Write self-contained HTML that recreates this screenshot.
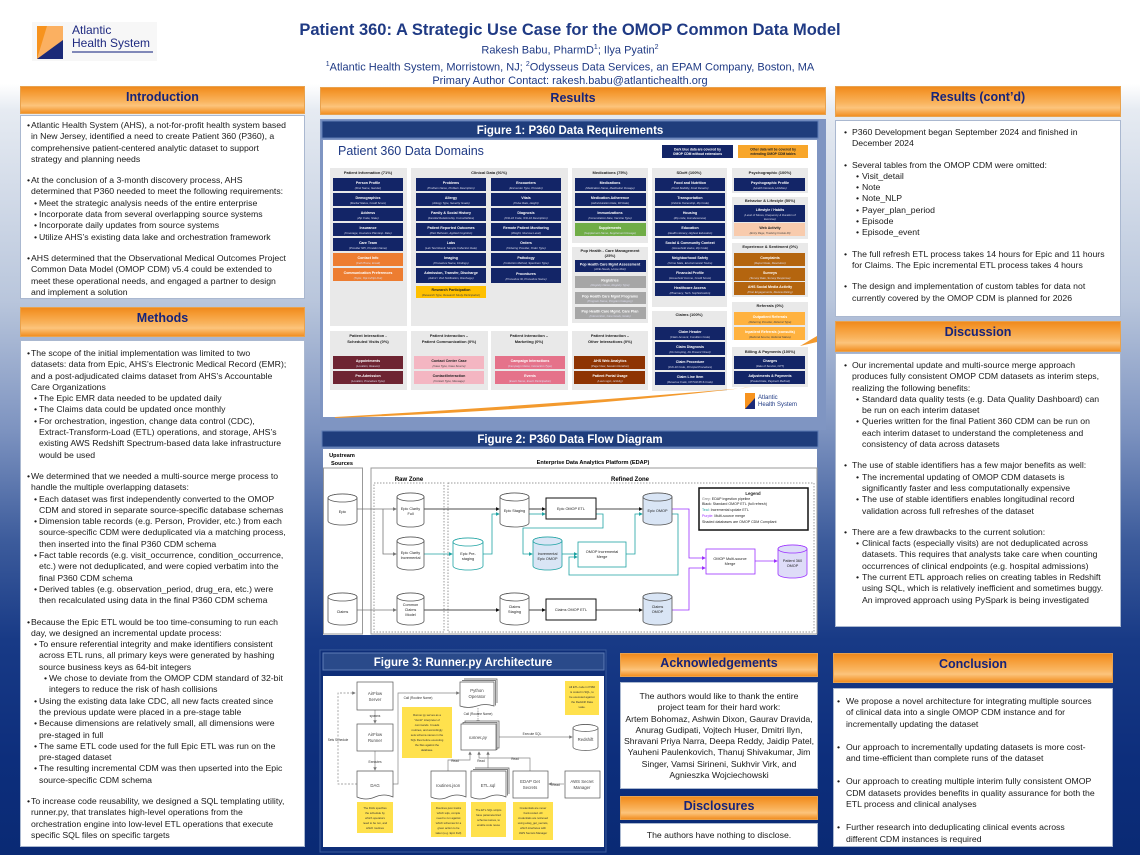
<!DOCTYPE html>
<html><head><meta charset="utf-8">
<style>
*{margin:0;padding:0;box-sizing:border-box}
html,body{width:1140px;height:855px;overflow:hidden}
body{position:relative;font-family:"Liberation Sans",sans-serif;background:linear-gradient(to bottom,#fff 0,#fff 84px,#e6ebf2 110px,#b9c6dc 300px,#7d93c0 430px,#3d5c9c 540px,#183a86 640px,#0d2e7c 760px,#0a2a74 855px)}
.hd{position:absolute;background:linear-gradient(to bottom,#ef8a1e 0%,#f59a32 20%,#f9b45e 55%,#fcc47c 72%,#f28f22 100%);border:1px solid #e8a24e;text-align:center;color:#16237a;font-weight:bold;font-size:12.5px;padding-top:3px}
.p{position:absolute;background:#fff;border:1px solid #aab8d0;font-size:8.7px;line-height:11.3px;color:#1a1a1a;white-space:nowrap}
.b{position:relative;padding-left:10px}
.b:before{content:"•";position:absolute;left:6px}
.s{position:relative;padding-left:18px}
.s:before{content:"•";position:absolute;left:13px}
.ss{position:relative;padding-left:28px}
.ss:before{content:"•";position:absolute;left:23px}
.g{margin-top:10px}
.r .b{padding-left:16px}.r .b:before{left:8px}
.r .s{padding-left:26px}.r .s:before{left:20px}
.c .b{padding-left:12px}.c .b:before{left:3px}
.c .g{margin-top:12px}
svg text{font-family:"Liberation Sans",sans-serif}
</style></head><body>

<div style="position:absolute;left:32px;top:22px;width:125px;height:39px;background:#f7f7f7"></div>
<svg style="position:absolute;left:37px;top:26px" width="26" height="33"><rect width="26" height="33" fill="#f7931e"/><polygon points="10,0 26,0 26,18 4,33 0,33" fill="#fbb061"/><polygon points="0,33 26,14 26,33" fill="#1b2a78"/></svg>
<div style="position:absolute;left:72px;top:24px;font-size:12px;line-height:12.5px;color:#1f2a80">Atlantic<br>Health System</div>
<div style="position:absolute;left:72px;top:51px;width:81px;height:2px;background:#8088b8"></div>

<div style="position:absolute;left:0;top:21px;width:1140px;text-align:center;color:#1f3a84;font-weight:bold;font-size:16.5px">Patient 360: A Strategic Use Case for the OMOP Common Data Model</div>
<div style="position:absolute;left:0;top:41px;width:1140px;text-align:center;color:#1f3a84;font-size:11px;line-height:14px">Rakesh Babu, PharmD<sup style="font-size:7px">1</sup>; Ilya Pyatin<sup style="font-size:7px">2</sup><br><sup style="font-size:7px">1</sup>Atlantic Health System, Morristown, NJ; <sup style="font-size:7px">2</sup>Odysseus Data Services, an EPAM Company, Boston, MA<br>Primary Author Contact: rakesh.babu@atlantichealth.org</div>

<div class="hd" style="left:20px;top:86px;width:285px;height:28px">Introduction</div>
<div class="hd" style="left:320px;top:87px;width:506px;height:28px">Results</div>
<div class="hd" style="left:835px;top:86px;width:286px;height:31px">Results (cont’d)</div>
<div class="hd" style="left:20px;top:307px;width:285px;height:30px">Methods</div>
<div class="hd" style="left:835px;top:321px;width:286px;height:31px">Discussion</div>
<div class="hd" style="left:620px;top:653px;width:198px;height:24px;padding-top:2px">Acknowledgements</div>
<div class="hd" style="left:620px;top:796px;width:198px;height:24px;padding-top:2px">Disclosures</div>
<div class="hd" style="left:833px;top:653px;width:280px;height:30px">Conclusion</div>

<div class="p" style="left:20px;top:115px;width:285px;height:184px;padding-top:4px">
<div class="b">Atlantic Health System (AHS), a not-for-profit health system based<br>in New Jersey, identified a need to create Patient 360 (P360), a<br>comprehensive patient-centered analytic dataset to support<br>strategy and planning needs</div>
<div class="b g">At the conclusion of a 3-month discovery process, AHS<br>determined that P360 needed to meet the following requirements:</div>
<div class="s">Meet the strategic analysis needs of the entire enterprise</div>
<div class="s">Incorporate data from several overlapping source systems</div>
<div class="s">Incorporate daily updates from source systems</div>
<div class="s">Utilize AHS’s existing data lake and orchestration framework</div>
<div class="b g">AHS determined that the Observational Medical Outcomes Project<br>Common Data Model (OMOP CDM) v5.4 could be extended to<br>meet these operational needs, and engaged a partner to design<br>and implement a solution</div>
</div>

<div class="p" style="left:20px;top:340px;width:285px;height:507px;padding-top:7px">
<div class="b">The scope of the initial implementation was limited to two<br>datasets: data from Epic, AHS’s Electronic Medical Record (EMR);<br>and a post-adjudicated claims dataset from AHS’s Accountable<br>Care Organizations</div>
<div class="s">The Epic EMR data needed to be updated daily</div>
<div class="s">The Claims data could be updated once monthly</div>
<div class="s">For orchestration, ingestion, change data control (CDC),<br>Extract-Transform-Load (ETL) operations, and storage, AHS’s<br>existing AWS Redshift Spectrum-based data lake infrastructure<br>would be used</div>
<div class="b g">We determined that we needed a multi-source merge process to<br>handle the multiple overlapping datasets:</div>
<div class="s">Each dataset was first independently converted to the OMOP<br>CDM and stored in separate source-specific database schemas</div>
<div class="s">Dimension table records (e.g. Person, Provider, etc.) from each<br>source-specific CDM were deduplicated via a matching process,<br>then inserted into the final P360 CDM schema</div>
<div class="s">Fact table records (e.g. visit_occurrence, condition_occurrence,<br>etc.) were not deduplicated, and were copied verbatim into the<br>final P360 CDM schema</div>
<div class="s">Derived tables (e.g. observation_period, drug_era, etc.) were<br>then recalculated using data in the final P360 CDM schema</div>
<div class="b g">Because the Epic ETL would be too time-consuming to run each<br>day, we designed an incremental update process:</div>
<div class="s">To ensure referential integrity and make identifiers consistent<br>across ETL runs, all primary keys were generated by hashing<br>source business keys as 64-bit integers</div>
<div class="ss">We chose to deviate from the OMOP CDM standard of 32-bit<br>integers to reduce the risk of hash collisions</div>
<div class="s">Using the existing data lake CDC, all new facts created since<br>the previous update were placed in a pre-stage table</div>
<div class="s">Because dimensions are relatively small, all dimensions were<br>pre-staged in full</div>
<div class="s">The same ETL code used for the full Epic ETL was run on the<br>pre-staged dataset</div>
<div class="s">The resulting incremental CDM was then upserted into the Epic<br>source-specific CDM schema</div>
<div class="b g">To increase code reusability, we designed a SQL templating utility,<br>runner.py, that translates high-level operations from the<br>orchestration engine into low-level ETL operations that execute<br>specific SQL files on specific targets</div>
</div>

<div class="p r" style="left:835px;top:120px;width:286px;height:197px;padding-top:6px">
<div class="b">P360 Development began September 2024 and finished in<br>December 2024</div>
<div class="b g">Several tables from the OMOP CDM were omitted:</div>
<div class="s">Visit_detail</div><div class="s">Note</div><div class="s">Note_NLP</div><div class="s">Payer_plan_period</div><div class="s">Episode</div><div class="s">Episode_event</div>
<div class="b g">The full refresh ETL process takes 14 hours for Epic and 11 hours<br>for Claims. The Epic incremental ETL process takes 4 hours</div>
<div class="b g">The design and implementation of custom tables for data not<br>currently covered by the OMOP CDM is planned for 2026</div>
</div>

<div class="p r" style="left:835px;top:353px;width:286px;height:274px;padding-top:6px">
<div class="b">Our incremental update and multi-source merge approach<br>produces fully consistent OMOP CDM datasets as interim steps,<br>realizing the following benefits:</div>
<div class="s">Standard data quality tests (e.g. Data Quality Dashboard) can<br>be run on each interim dataset</div>
<div class="s">Queries written for the final Patient 360 CDM can be run on<br>each interim dataset to understand the completeness and<br>consistency of data across datasets</div>
<div class="b g">The use of stable identifiers has a few major benefits as well:</div>
<div class="s">The incremental updating of OMOP CDM datasets is<br>significantly faster and less computationally expensive</div>
<div class="s">The use of stable identifiers enables longitudinal record<br>validation across full refreshes of the dataset</div>
<div class="b g">There are a few drawbacks to the current solution:</div>
<div class="s">Clinical facts (especially visits) are not deduplicated across<br>datasets. This requires that analysts take care when counting<br>occurrences of clinical endpoints (e.g. hospital admissions)</div>
<div class="s">The current ETL approach relies on creating tables in Redshift<br>using SQL, which is relatively inefficient and sometimes buggy.<br>An improved approach using PySpark is being investigated</div>
</div>

<div class="p" style="left:620px;top:682px;width:198px;height:107px;padding-top:8px;text-align:center">The authors would like to thank the entire<br>project team for their hard work:<br>Artem Bohomaz, Ashwin Dixon, Gaurav Dravida,<br>Anurag Gudipati, Vojtech Huser, Dmitri Ilyn,<br>Shravani Priya Narra, Deepa Reddy, Jaidip Patel,<br>Yauheni Paulenkovich, Thanuj Shivakumar, Jim<br>Singer, Vamsi Sirineni, Sukhvir Virk, and<br>Agnieszka Wojciechowski</div>
<div class="p" style="left:620px;top:823px;width:198px;height:24px;padding-top:6px;text-align:center">The authors have nothing to disclose.</div>

<div class="p c" style="left:833px;top:688px;width:280px;height:159px;padding-top:7px">
<div class="b">We propose a novel architecture for integrating multiple sources<br>of clinical data into a single OMOP CDM instance and for<br>incrementally updating the dataset</div>
<div class="b g">Our approach to incrementally updating datasets is more cost-<br>and time-efficient than complete runs of the dataset</div>
<div class="b g">Our approach to creating multiple interim fully consistent OMOP<br>CDM datasets provides benefits in quality assurance for both the<br>ETL process and clinical analyses</div>
<div class="b g">Further research into deduplicating clinical events across<br>different CDM instances is required</div>
</div>

<svg style="position:absolute;left:0;top:0" width="1140" height="855" viewBox="0 0 1140 855">
<defs>
<marker id="ak" markerWidth="5" markerHeight="5" refX="4" refY="2.5" orient="auto"><path d="M0,0L5,2.5L0,5Z" fill="#111"/></marker>
<marker id="ag" markerWidth="5" markerHeight="5" refX="4" refY="2.5" orient="auto"><path d="M0,0L5,2.5L0,5Z" fill="#777"/></marker>
<marker id="at" markerWidth="5" markerHeight="5" refX="4" refY="2.5" orient="auto"><path d="M0,0L5,2.5L0,5Z" fill="#1fa3a3"/></marker>
<marker id="ap" markerWidth="5" markerHeight="5" refX="4" refY="2.5" orient="auto"><path d="M0,0L5,2.5L0,5Z" fill="#9b30ff"/></marker>
</defs>

<rect x="320" y="119" width="506" height="311" fill="#7f95c2"/>
<rect x="322" y="121" width="496" height="17" fill="#1f3d7c" stroke="#5d7cb5"/>
<text x="570" y="134" text-anchor="middle" fill="#fff" font-size="11.5" font-weight="bold">Figure 1: P360 Data Requirements</text>
<rect x="323" y="140" width="494" height="277" fill="#fff"/>
<text x="338" y="155" fill="#1f3a84" font-size="12.5">Patient 360 Data Domains</text>
<rect x="662" y="145" width="71" height="13" fill="#132567"/>
<text x="697.5" y="150.5" text-anchor="middle" fill="#fff" font-size="3.3" font-weight="bold">Dark blue data are covered by</text>
<text x="697.5" y="155" text-anchor="middle" fill="#fff" font-size="3.3" font-weight="bold">OMOP CDM without extensions</text>
<rect x="738" y="145" width="70" height="13" fill="#f8a62a"/>
<text x="773" y="150.5" text-anchor="middle" fill="#222" font-size="3.3" font-weight="bold">Other data will be covered by</text>
<text x="773" y="155" text-anchor="middle" fill="#222" font-size="3.3" font-weight="bold">extending OMOP CDM tables</text>

<g fill="#e9e9e9">
<rect x="330" y="168" width="77" height="158"/><rect x="411" y="168" width="157" height="158"/>
<rect x="572" y="168" width="76" height="75"/><rect x="572" y="247" width="76" height="76"/>
<rect x="652" y="168" width="75" height="139"/><rect x="652" y="311" width="75" height="80"/>
<rect x="732" y="168" width="76" height="25"/><rect x="732" y="197" width="76" height="42"/>
<rect x="732" y="243" width="76" height="54"/><rect x="732" y="302" width="76" height="38"/>
<rect x="732" y="347" width="76" height="40"/>
<rect x="330" y="331" width="77" height="59"/><rect x="411" y="331" width="77" height="59"/>
<rect x="491" y="331" width="77" height="59"/><rect x="572" y="331" width="76" height="59"/>
</g>
<g font-size="4" font-weight="bold" fill="#222" text-anchor="middle">
<text x="368" y="174">Patient Information (71%)</text>
<text x="489" y="174">Clinical Data (91%)</text>
<text x="610" y="174">Medications (75%)</text>
<text x="610" y="252">Pop Health - Care Management</text><text x="610" y="257">(25%)</text>
<text x="689" y="174">SDoH (100%)</text>
<text x="689" y="316">Claims (100%)</text>
<text x="770" y="174">Psychographic (100%)</text>
<text x="770" y="202">Behavior &amp; Lifestyle (50%)</text>
<text x="770" y="248">Experience &amp; Sentiment (0%)</text>
<text x="770" y="307">Referrals (0%)</text>
<text x="770" y="353">Billing &amp; Payments (100%)</text>
<text x="368" y="337">Patient Interaction -</text><text x="368" y="343">Scheduled Visits (0%)</text>
<text x="449" y="337">Patient Interaction –</text><text x="449" y="343">Patient Communication (0%)</text>
<text x="529" y="337">Patient Interaction –</text><text x="529" y="343">Marketing (0%)</text>
<text x="610" y="337">Patient Interaction –</text><text x="610" y="343">Other Interactions (0%)</text>
</g>

<g fill="#132567">
<rect x="333" y="178" width="70" height="13"/><rect x="333" y="193" width="70" height="13"/><rect x="333" y="208" width="70" height="13"/><rect x="333" y="223" width="70" height="13"/><rect x="333" y="238" width="70" height="13"/>
<rect x="416" y="178" width="70" height="13"/><rect x="416" y="193" width="70" height="13"/><rect x="416" y="208" width="70" height="13"/><rect x="416" y="223" width="70" height="13"/><rect x="416" y="238" width="70" height="13"/><rect x="416" y="253" width="70" height="13"/><rect x="416" y="268" width="70" height="15"/>
<rect x="491" y="178" width="70" height="13"/><rect x="491" y="193" width="70" height="13"/><rect x="491" y="208" width="70" height="13"/><rect x="491" y="223" width="70" height="13"/><rect x="491" y="238" width="70" height="13"/><rect x="491" y="253" width="70" height="13"/><rect x="491" y="268" width="70" height="15"/>
<rect x="575" y="178" width="71" height="13"/><rect x="575" y="193" width="71" height="13"/><rect x="575" y="208" width="71" height="13"/>
<rect x="575" y="260" width="71" height="12"/>
<rect x="655" y="178" width="70" height="13"/><rect x="655" y="193" width="70" height="13"/><rect x="655" y="208" width="70" height="13"/><rect x="655" y="223" width="70" height="13"/><rect x="655" y="238" width="70" height="13"/><rect x="655" y="253" width="70" height="13"/><rect x="655" y="268" width="70" height="13"/><rect x="655" y="283" width="70" height="13"/>
<rect x="655" y="327" width="70" height="13"/><rect x="655" y="342" width="70" height="13"/><rect x="655" y="357" width="70" height="13"/><rect x="655" y="372" width="70" height="13"/>
<rect x="734" y="178" width="71" height="13"/><rect x="734" y="205" width="71" height="17"/>
<rect x="734" y="356" width="71" height="13"/><rect x="734" y="371" width="71" height="13"/>
</g>
<g fill="#ed7d31"><rect x="333" y="253" width="70" height="13"/><rect x="333" y="268" width="70" height="13"/></g>
<rect x="416" y="286" width="70" height="12" fill="#ffc000"/>
<rect x="575" y="223" width="71" height="13" fill="#70ad47"/>
<g fill="#a6a6a6"><rect x="575" y="276" width="71" height="12"/><rect x="575" y="292" width="71" height="12"/><rect x="575" y="307" width="71" height="12"/></g>
<rect x="734" y="223" width="71" height="13" fill="#f8cbad"/>
<g fill="#b4650f"><rect x="734" y="253" width="71" height="13"/><rect x="734" y="268" width="71" height="13"/><rect x="734" y="282" width="71" height="13"/></g>
<g fill="#ffb23f"><rect x="734" y="312" width="71" height="13"/><rect x="734" y="327" width="71" height="13"/></g>
<g fill="#6e2432"><rect x="333" y="356" width="70" height="13"/><rect x="333" y="371" width="70" height="13"/></g>
<g fill="#f4b6c2"><rect x="414" y="356" width="70" height="13"/><rect x="414" y="371" width="70" height="13"/></g>
<g fill="#e5728a"><rect x="495" y="356" width="70" height="13"/><rect x="495" y="371" width="70" height="13"/></g>
<g fill="#8e3403"><rect x="574" y="356" width="71" height="13"/><rect x="574" y="371" width="71" height="13"/></g>

<g fill="#fff" font-size="3.6" font-weight="bold" text-anchor="middle">
<text x="368" y="184">Person Profile</text><text x="368" y="199">Demographics</text><text x="368" y="214">Address</text><text x="368" y="229">Insurance</text><text x="368" y="244">Care Team</text><text x="368" y="259">Contact Info</text><text x="368" y="274">Communication Preferences</text>
<text x="451" y="184">Problems</text><text x="451" y="199">Allergy</text><text x="451" y="214">Family &amp; Social History</text><text x="451" y="229">Patient Reported Outcomes</text><text x="451" y="244">Labs</text><text x="451" y="259">Imaging</text><text x="451" y="274">Admission, Transfer, Discharge</text>
<text x="526" y="184">Encounters</text><text x="526" y="199">Vitals</text><text x="526" y="214">Diagnosis</text><text x="526" y="229">Remote Patient Monitoring</text><text x="526" y="244">Orders</text><text x="526" y="259">Pathology</text><text x="526" y="275">Procedures</text>
<text x="610" y="184">Medications</text><text x="610" y="199">Medication Adherence</text><text x="610" y="214">Immunizations</text><text x="610" y="229">Supplements</text>
<text x="610" y="265.5">Pop Health Care Mgmt Assessment</text><text x="610" y="281.5">Registries</text><text x="610" y="297.5">Pop Health Care Mgmt Programs</text><text x="610" y="312.5">Pop Health Care Mgmt. Care Plan</text>
<text x="690" y="184">Food and Nutrition</text><text x="690" y="199">Transportation</text><text x="690" y="214">Housing</text><text x="690" y="229">Education</text><text x="690" y="244">Social &amp; Community Context</text><text x="690" y="259">Neighborhood Safety</text><text x="690" y="274">Financial Profile</text><text x="690" y="289">Healthcare Access</text>
<text x="690" y="333">Claim Header</text><text x="690" y="348">Claim Diagnosis</text><text x="690" y="363">Claim Procedure</text><text x="690" y="378">Claim Line Item</text>
<text x="770" y="184">Psychographic Profile</text><text x="770" y="211">Lifestyle / Habits</text>
<text x="770" y="259">Complaints</text><text x="770" y="274">Surveys</text><text x="770" y="288">AHS Social Media Activity</text>
<text x="770" y="362">Charges</text><text x="770" y="377">Adjustments &amp; Payments</text>
<text x="368" y="362">Appointments</text><text x="368" y="377">Pre-Admission</text>
<text x="530" y="362">Campaign Interactions</text><text x="530" y="377">Events</text>
<text x="610" y="362">AHS Web Analytics</text><text x="610" y="377">Patient Portal Usage</text>
<text x="770" y="318">Outpatient Referrals</text><text x="770" y="333">Inpatient Referrals (consults)</text>
</g>
<g fill="#222" font-size="3.6" font-weight="bold" text-anchor="middle">
<text x="451" y="291">Research Participation</text><text x="770" y="229">Web Activity</text>
<text x="449" y="362">Contact Center Case</text><text x="449" y="377">Contact/Interaction</text>
</g>
<g fill="#dde" font-size="2.8" font-style="italic" text-anchor="middle">
<text x="368" y="189">(First Name, Gender)</text><text x="368" y="204">(Marital Status, Credit Score)</text><text x="368" y="219">(Zip Code, State)</text><text x="368" y="234">(Coverage, Insurance Plan Exp. Date)</text><text x="368" y="249">(Provider NPI, Provider Name)</text><text x="368" y="264">(Cell Phone, Email)</text><text x="368" y="279">(Topic, Opt-In/Opt-Out)</text>
<text x="451" y="189">(Problem Name, Problem Description)</text><text x="451" y="204">(Allergy Type, Severity Grade)</text><text x="451" y="219">(Familial Relationship, Comorbidities)</text><text x="451" y="234">(Pain Behavior, Applied Cognition)</text><text x="451" y="249">(Lab Test Result, Sample Collection Date)</text><text x="451" y="264">(Procedure Name, Findings)</text><text x="451" y="279">(Admit / Visit Notification, Discharge)</text>
<text x="526" y="189">(Encounter Type, Provider)</text><text x="526" y="204">(Pulse Rate, Height)</text><text x="526" y="219">(ICD-10 Code, ICD-10 Description)</text><text x="526" y="234">(Weight, Glucose Level)</text><text x="526" y="249">(Ordering Provider, Order Type)</text><text x="526" y="264">(Collection Method, Specimen Type)</text><text x="526" y="280">(Procedure ID, Procedure Name)</text>
<text x="610" y="189">(Medication Name, Medication Dosage)</text><text x="610" y="204">(Administration Date, Fill Date)</text><text x="610" y="219">(Immunization Date, Vaccine Type)</text><text x="610" y="234">(Supplement Name, Supplement Dosage)</text>
<text x="610" y="270">(ACE Needs, Home Risk)</text><text x="610" y="286">(Registry Name, Registry Type)</text><text x="610" y="302">(Program Name, Program Category)</text><text x="610" y="317">(Intervention, Care Goals, Goals)</text>
<text x="690" y="189">(Food Stability, Food Deserts)</text><text x="690" y="204">(Vehicle Ownership, Zip Code)</text><text x="690" y="219">(Zip code, Homelessness)</text><text x="690" y="234">(Health Literacy, Highest Education)</text><text x="690" y="249">(Household status, Zip Code)</text><text x="690" y="264">(Crime Stats, Environmental Toxins)</text><text x="690" y="279">(Household Income, Credit Score)</text><text x="690" y="294">(Pharmacy, Tech. Sophistication)</text>
<text x="690" y="338">(Claim Amount, Condition Code)</text><text x="690" y="353">(Dx Grouping, Dx Present Onset)</text><text x="690" y="368">(ICD-10 Code, Principal Procedure)</text><text x="690" y="383">(Revenue Code, CPT/HCPCS Code)</text>
<text x="770" y="189">(Health Interests, Hobbies)</text><text x="770" y="216">(Level of Stress, Frequency &amp; Duration of</text><text x="770" y="220">Exercise)</text>
<text x="770" y="264">(Report Date, Resolution)</text><text x="770" y="279">(Survey Date, Survey Response)</text><text x="770" y="293">(Post Engagements, Review Rating)</text>
<text x="770" y="367">(Date of Service, CPT)</text><text x="770" y="382">(Posted Date, Payment Method)</text>
<text x="368" y="367">(Location, Reason)</text><text x="368" y="382">(Location, Procedure Type)</text>
<text x="530" y="367">(Campaign Name, Interaction Type)</text><text x="530" y="382">(Event Name, Event Participation)</text>
<text x="610" y="367">(Page View, Session Duration)</text><text x="610" y="382">(Last Login, Activity)</text>
</g>
<g fill="#444" font-size="2.8" font-style="italic" text-anchor="middle">
<text x="451" y="296">(Research Type, Research Study Participation)</text><text x="770" y="234">(Entry Page, Tracking Cookie ID)</text>
<text x="449" y="367">(Case Type, Case Source)</text><text x="449" y="382">(Contact Type, Message)</text>
<text x="770" y="323">(Referring Provider, Referral Type)</text><text x="770" y="338">(Referral Source, Referral Status)</text>
</g>
<path d="M335,417 Q560,404 745,388 L752,387 Q560,410 335,418Z" fill="#f39a2e"/>
<path d="M800,346 L817,336 L817,342 Z" fill="#f39a2e"/>
<rect x="745" y="393" width="10" height="16" fill="#f7931e"/><polygon points="745,409 755,398 755,409" fill="#1b2a78"/>
<text x="758" y="399" font-size="6" fill="#1f3a84">Atlantic</text><text x="758" y="406" font-size="6" fill="#1f3a84">Health System</text>

<rect x="322" y="431" width="496" height="16" fill="#1f3d7c" stroke="#5d7cb5"/>
<text x="570" y="443" text-anchor="middle" fill="#fff" font-size="11.5" font-weight="bold">Figure 2: P360 Data Flow Diagram</text>
<rect x="323" y="449" width="494" height="186" fill="#fff"/>
<rect x="323.5" y="468" width="39" height="166" fill="none" stroke="#999"/>
<rect x="371" y="468" width="446" height="166" fill="none" stroke="#999"/>
<text x="342" y="457" text-anchor="middle" font-size="5.6" font-weight="bold">Upstream</text>
<text x="342" y="465" text-anchor="middle" font-size="5.6" font-weight="bold">Sources</text>
<text x="593" y="464" text-anchor="middle" font-size="5.6" font-weight="bold">Enterprise Data Analytics Platform (EDAP)</text>
<rect x="374" y="483" width="70" height="149" fill="none" stroke="#999" stroke-dasharray="1.5,1.5"/>
<rect x="448" y="483" width="366" height="149" fill="none" stroke="#999" stroke-dasharray="1.5,1.5"/>
<text x="409" y="481" text-anchor="middle" font-size="6" font-weight="bold">Raw Zone</text>
<text x="630" y="481" text-anchor="middle" font-size="6" font-weight="bold">Refined Zone</text>

<g fill="none" stroke-width="0.8">
<path d="M357,509 H396" stroke="#777" marker-end="url(#ag)"/>
<path d="M383,509 V554 H396" stroke="#777" marker-end="url(#ag)"/>
<path d="M357,610 H396" stroke="#777" marker-end="url(#ag)"/>
<path d="M424,509 H499" stroke="#111" marker-end="url(#ak)"/>
<path d="M529,509 H545" stroke="#111" marker-end="url(#ak)"/>
<path d="M596,509 H642" stroke="#111" marker-end="url(#ak)"/>
<path d="M424,610 H499" stroke="#111" marker-end="url(#ak)"/>
<path d="M529,610 H545" stroke="#111" marker-end="url(#ak)"/>
<path d="M596,610 H642" stroke="#111" marker-end="url(#ak)"/>
<path d="M424,554 H452" stroke="#1fa3a3" marker-end="url(#at)"/>
<path d="M483,554 H492 V514 H499" stroke="#1fa3a3" marker-end="url(#at)"/>
<path d="M529,514 H545" stroke="#1fa3a3" marker-end="url(#at)"/>
<path d="M596,514 H603 V528 H523 V554 H532" stroke="#1fa3a3" marker-end="url(#at)"/>
<path d="M562,554 H577" stroke="#1fa3a3" marker-end="url(#at)"/>
<path d="M626,554 H635 V514 H642" stroke="#1fa3a3" marker-end="url(#at)"/>
<path d="M672,514 H678 V575 H569 V557 H577" stroke="#1fa3a3" marker-end="url(#at)"/>
<path d="M672,509 H689 V558 H705" stroke="#9b30ff" marker-end="url(#ap)"/>
<path d="M672,610 H689 V568 H705" stroke="#9b30ff" marker-end="url(#ap)"/>
<path d="M755,561 H777" stroke="#9b30ff" marker-end="url(#ap)"/>
</g>
<g stroke-width="0.8">
<g stroke="#555" fill="#fff">
<path d="M328,498 A14.5,4 0 0 1 357,498 V521 A14.5,4 0 0 1 328,521 Z"/><ellipse cx="342.5" cy="498" rx="14.5" ry="4"/>
<path d="M328,597 A14.5,4 0 0 1 357,597 V621 A14.5,4 0 0 1 328,621 Z"/><ellipse cx="342.5" cy="597" rx="14.5" ry="4"/>
<path d="M397,497 A13.5,4 0 0 1 424,497 V523 A13.5,4 0 0 1 397,523 Z"/><ellipse cx="410.5" cy="497" rx="13.5" ry="4"/>
<path d="M397,541 A13.5,4 0 0 1 424,541 V566 A13.5,4 0 0 1 397,566 Z"/><ellipse cx="410.5" cy="541" rx="13.5" ry="4"/>
<path d="M397,597 A13.5,4 0 0 1 424,597 V621 A13.5,4 0 0 1 397,621 Z"/><ellipse cx="410.5" cy="597" rx="13.5" ry="4"/>
<path d="M500,497 A14.5,4 0 0 1 529,497 V523 A14.5,4 0 0 1 500,523 Z"/><ellipse cx="514.5" cy="497" rx="14.5" ry="4"/>
<path d="M500,597 A14.5,4 0 0 1 529,597 V621 A14.5,4 0 0 1 500,621 Z"/><ellipse cx="514.5" cy="597" rx="14.5" ry="4"/>
</g>
<g stroke="#555" fill="#d9e5f5">
<path d="M643,497 A14.5,4 0 0 1 672,497 V521 A14.5,4 0 0 1 643,521 Z"/><ellipse cx="657.5" cy="497" rx="14.5" ry="4"/>
<path d="M643,597 A14.5,4 0 0 1 672,597 V621 A14.5,4 0 0 1 643,621 Z"/><ellipse cx="657.5" cy="597" rx="14.5" ry="4"/>
</g>
<path d="M453,542 A15,4 0 0 1 483,542 V566 A15,4 0 0 1 453,566 Z" stroke="#1fa3a3" fill="#fff"/><ellipse cx="468" cy="542" rx="15" ry="4" stroke="#1fa3a3" fill="#fff"/>
<path d="M533,541 A14.5,4 0 0 1 562,541 V566 A14.5,4 0 0 1 533,566 Z" stroke="#1fa3a3" fill="#d9e5f5"/><ellipse cx="547.5" cy="541" rx="14.5" ry="4" stroke="#1fa3a3" fill="#d9e5f5"/>
<path d="M778,549 A14.5,4 0 0 1 807,549 V574 A14.5,4 0 0 1 778,574 Z" stroke="#9b30ff" fill="#dedcf8"/><ellipse cx="792.5" cy="549" rx="14.5" ry="4" stroke="#9b30ff" fill="#dedcf8"/>
<rect x="546" y="498" width="50" height="21" fill="#fff" stroke="#111" stroke-width="1"/>
<rect x="546" y="599" width="50" height="21" fill="#fff" stroke="#111" stroke-width="1"/>
<rect x="578" y="542" width="48" height="25" fill="#fff" stroke="#1fa3a3"/>
<rect x="706" y="549" width="49" height="25" fill="#fff" stroke="#9b30ff"/>
<rect x="699" y="488" width="109" height="42" fill="#fff" stroke="#111" stroke-width="1.5"/>
</g>
<g font-size="3.8" text-anchor="middle" fill="#222">
<text x="342.5" y="513">Epic</text><text x="342.5" y="613">Claims</text>
<text x="410.5" y="510">Epic Clarity</text><text x="410.5" y="515">Full</text>
<text x="410.5" y="554">Epic Clarity</text><text x="410.5" y="559">Incremental</text>
<text x="410.5" y="606">Common</text><text x="410.5" y="611">Claims</text><text x="410.5" y="616">Model</text>
<text x="468" y="555">Epic Pre-</text><text x="468" y="560">staging</text>
<text x="514.5" y="512">Epic Staging</text>
<text x="514.5" y="608">Claims</text><text x="514.5" y="613">Staging</text>
<text x="547.5" y="555">Incremental</text><text x="547.5" y="560">Epic OMOP</text>
<text x="657.5" y="512">Epic OMOP</text>
<text x="657.5" y="608">Claims</text><text x="657.5" y="613">OMOP</text>
<text x="792.5" y="562">Patient 360</text><text x="792.5" y="567">OMOP</text>
<text x="571" y="510">Epic OMOP ETL</text><text x="571" y="611">Claims OMOP ETL</text>
<text x="602" y="553">OMOP Incremental</text><text x="602" y="558">Merge</text>
<text x="730" y="560">OMOP Multi-source</text><text x="730" y="565">Merge</text>
<text x="753" y="495" font-weight="bold" font-size="4.3">Legend</text>
</g>
<g font-size="3.6" fill="#222">
<text x="702" y="500"><tspan fill="#777">Grey:</tspan> EDAP ingestion pipeline</text>
<text x="702" y="505">Black: Standard OMOP ETL (full refresh)</text>
<text x="702" y="511"><tspan fill="#1fa3a3">Teal:</tspan> Incremental update ETL</text>
<text x="702" y="517"><tspan fill="#9b30ff">Purple:</tspan> Multi-source merge</text>
<text x="702" y="523">Shaded databases are OMOP CDM Compliant</text>
</g>

<rect x="320" y="650" width="286" height="202" fill="#0e2e78" stroke="#3a5a9a"/>
<rect x="323" y="653" width="281" height="17" fill="#2a4a8a" stroke="#5d7cb5"/>
<text x="463" y="666" text-anchor="middle" fill="#fff" font-size="11.5" font-weight="bold">Figure 3: Runner.py Architecture</text>
<rect x="323" y="676" width="281" height="171" fill="#fff"/>
<g fill="none" stroke="#888" stroke-width="0.7">
<path d="M357,784 H338 V693 H355" stroke-dasharray="2,1.5" marker-end="url(#ag)"/>
<path d="M375,710 V723" marker-end="url(#ag)"/>
<path d="M375,751 V770" marker-end="url(#ag)"/>
<path d="M393,784 H398 V693 H459" marker-end="url(#ag)"/>
<path d="M478,708 V723" stroke-dasharray="1.5,1" marker-end="url(#ag)"/>
<path d="M496,737 H572" marker-end="url(#ag)"/>
<path d="M448,771 V760 H470 V752" marker-end="url(#ag)"/>
<path d="M488,771 V752" marker-end="url(#ag)"/>
<path d="M530,771 V758 H479 V752" marker-end="url(#ag)"/>
<path d="M564,784 H549" marker-end="url(#ag)"/>
</g>
<g stroke="#555" stroke-width="0.7" fill="#fff">
<rect x="357" y="682" width="36" height="28"/>
<rect x="357" y="724" width="36" height="27"/>
<path d="M357,771 H393 V797 Q384,793 375,797 Q366,801 357,797 Z"/>
<path d="M464,679 H497 V703"/><path d="M462,680.5 H495.5 V705.5"/>
<path d="M460,682 H494 V706 Q485,703 477,706 Q468,709 460,706 Z"/>
<rect x="465" y="721" width="34" height="27"/><rect x="463" y="722.5" width="34" height="27"/><rect x="461" y="724" width="35" height="26"/>
<path d="M573,728 A12.5,3.5 0 0 1 598,728 V747 A12.5,3.5 0 0 1 573,747 Z"/><ellipse cx="585.5" cy="728" rx="12.5" ry="3.5"/>
<path d="M431,771 H466 V797 Q457,793 448,797 Q440,801 431,797 Z"/>
<path d="M475,768 H509 V794"/><path d="M473,769.5 H507.5 V795.5"/>
<path d="M471,771 H506 V797 Q497,793 488,797 Q480,801 471,797 Z"/>
<rect x="513" y="771" width="35" height="27"/>
<rect x="565" y="771" width="35" height="27"/>
</g>
<g fill="#ffe14d">
<rect x="402" y="707" width="50" height="51"/><rect x="565" y="681" width="34" height="34"/>
<rect x="357" y="802" width="36" height="31"/><rect x="431" y="802" width="35" height="35"/>
<rect x="471" y="802" width="35" height="35"/><rect x="513" y="802" width="40" height="38"/>
</g>
<g font-size="4.3" text-anchor="middle" fill="#444">
<text x="375" y="695">AirFlow</text><text x="375" y="701">Server</text>
<text x="375" y="736">AirFlow</text><text x="375" y="742">Runner</text>
<text x="375" y="787">DAG</text>
<text x="477" y="692">Python</text><text x="477" y="698">Operator</text>
<text x="478" y="739" font-style="italic">runner.py</text>
<text x="585.5" y="741">Redshift</text>
<text x="448" y="787">routines.json</text><text x="488" y="787">ETL.sql</text>
<text x="530" y="783">EDAP Get</text><text x="530" y="789">Secrets</text>
<text x="582" y="783">AWS Secret</text><text x="582" y="789">Manager</text>
</g>
<g font-size="3.2" text-anchor="middle" fill="#333">
<text x="375" y="717">spawns</text><text x="375" y="763">Executes</text>
<text x="338" y="741">Sets Schedule</text>
<text x="418" y="699">Call (Routine Name)</text><text x="478" y="715">Call (Routine Name)</text>
<text x="532" y="735">Execute SQL</text>
<text x="455" y="762">Read</text><text x="481" y="762">Read</text><text x="515" y="760">Read</text><text x="556" y="786">Read</text>
</g>
<g font-size="2.8" text-anchor="middle" fill="#333">
<text x="427" y="716">Runner.py serves as a</text><text x="427" y="721">"dumb" interpreter of</text><text x="427" y="726">commands. It reads</text><text x="427" y="731">routines, and accordingly</text><text x="427" y="736">sets schema names in the</text><text x="427" y="741">SQL files before executing</text><text x="427" y="746">the files against the</text><text x="427" y="751">database.</text>
<text x="582" y="688">All ETL code in P360</text><text x="582" y="693">is coded in SQL, to</text><text x="582" y="698">be executed against</text><text x="582" y="703">the Redshift Data</text><text x="582" y="708">Lake.</text>
<text x="375" y="809">The DAG specifies</text><text x="375" y="814">the schedule by</text><text x="375" y="819">which operators</text><text x="375" y="824">need to be run, and</text><text x="375" y="829">which routines</text>
<text x="448.5" y="809">Routines.json tracks</text><text x="448.5" y="814">which sqls, comple</text><text x="448.5" y="819">need to run against</text><text x="448.5" y="824">which schemas for a</text><text x="448.5" y="829">given action to be</text><text x="448.5" y="834">taken (e.g. Epic Full)</text>
<text x="488.5" y="811">The ETL.SQL scripts</text><text x="488.5" y="816">have parameterized</text><text x="488.5" y="821">schema names, to</text><text x="488.5" y="826">enable code reuse</text>
<text x="533" y="809">Credentials are never</text><text x="533" y="814">hard-coded. All</text><text x="533" y="819">credentials are retrieved</text><text x="533" y="824">using edap_get_secrets,</text><text x="533" y="829">which interfaces with</text><text x="533" y="834">AWS Secrets Manager</text>
</g>
</svg>
</body></html>
